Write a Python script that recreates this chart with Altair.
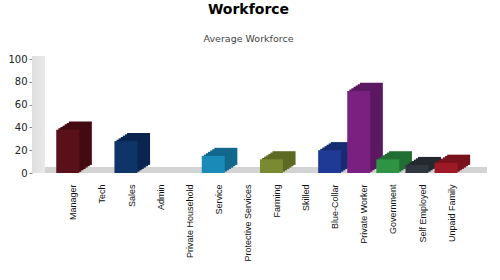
import altair as alt
import pandas as pd

categories = ["Manager", "Tech", "Sales", "Admin", "Private Household", "Service",
              "Protective Services", "Farming", "Skilled", "Blue-Collar",
              "Private Worker", "Government", "Self Employed", "Unpaid Family"]
values = [38, 0, 28, 0, 0, 15, 0, 12, 0, 20, 72, 12, 7, 9]
y_ticks = [0, 20, 40, 60, 80, 100]

front_colors = ["#5a1019", "#555555", "#0f3468", "#555555", "#555555", "#1a8ab8",
                "#555555", "#7a8a32", "#555555", "#1f3a94", "#7a2080", "#2e9444",
                "#30363e", "#9e1a26"]
side_colors = ["#440b12", "#444444", "#0a2650", "#444444", "#444444", "#13688c",
               "#444444", "#5c6a24", "#444444", "#172c72", "#5c1862", "#226e34",
               "#24292f", "#78121c"]

df = pd.DataFrame({"category": categories, "value": values,
                   "front": front_colors, "side": side_colors})

x_axis = alt.Axis(title=None, labelAngle=-90, labelAlign="right",
                  labelBaseline="middle", labelFont="Liberation Sans",
                  labelFontSize=9, labelColor="#111", labelPadding=11,
                  domain=False, ticks=False, labelOverlap=False)
x_scale = alt.Scale(range=[26.8, 434.2], paddingInner=0, paddingOuter=0)
y_axis = alt.Axis(values=y_ticks, grid=False, domain=False, tickSize=3,
                  tickColor="#888", labelFontSize=10, labelFont="DejaVu Sans",
                  labelColor="#222", labelPadding=2, title=None,
                  labelOverlap=False, labelBound=False, labelFlush=False)
y_scale = alt.Scale(domain=[0, 100], nice=False, zero=True)

one = pd.DataFrame({"a": [0]})
wall = alt.Chart(one).mark_rect(
    color=alt.Gradient(gradient="linear",
                       stops=[alt.GradientStop(color="#dedede", offset=0),
                              alt.GradientStop(color="#e9e9e9", offset=1)],
                       x1=0, x2=1, y1=0, y2=0),
    yOffset=-3).encode(
    x=alt.value(0), x2=alt.value(13),
    y=alt.datum(100, scale=y_scale, axis=y_axis), y2=alt.datum(0))
floor = alt.Chart(one).mark_rect(color="#d3d3d3").encode(
    x=alt.value(13), x2=alt.value(455),
    y=alt.datum(5.3, scale=y_scale, axis=y_axis), y2=alt.datum(0))

base = alt.Chart(df)
layers = [wall, floor]
n = 6
for k in range(n, 0, -1):
    dx = -5.6 + k * 2.1
    dy = -k * 1.35
    layers.append(base.mark_bar(width=23, xOffset=dx, x2Offset=dx,
                                yOffset=dy, y2Offset=dy).encode(
        x=alt.X("category:N", sort=categories, scale=x_scale, axis=x_axis),
        y=alt.Y("value:Q", scale=y_scale, axis=y_axis),
        color=alt.Color("side:N", scale=None)))
layers.append(base.mark_bar(width=23, xOffset=-5.6, x2Offset=-5.6).encode(
    x=alt.X("category:N", sort=categories, scale=x_scale, axis=x_axis),
    y=alt.Y("value:Q", scale=y_scale, axis=y_axis),
    color=alt.Color("front:N", scale=None)))

chart = alt.layer(*layers).properties(
    width=457, height=114,
    title=alt.TitleParams("Workforce", subtitle="Average Workforce",
                          fontSize=14, font="DejaVu Sans", fontWeight="bold",
                          color="#000", subtitleFontSize=9.5,
                          subtitleFont="DejaVu Sans", subtitleColor="#444",
                          subtitlePadding=17, offset=11, anchor="middle", dx=-12),
    autosize=alt.AutoSizeParams(type="none"),
    padding={"left": 32, "top": 59, "right": 11, "bottom": 107},
).configure(background="white").configure_view(
    stroke=None, strokeWidth=0).configure_axisY(labelOverlap=False)

chart.save("out.html", embed_options={"renderer": "svg", "actions": False})
